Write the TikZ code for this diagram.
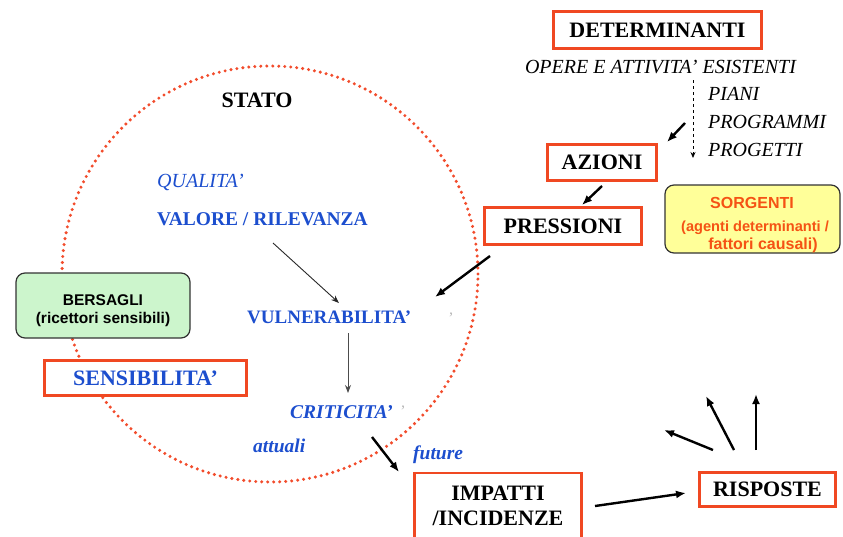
\documentclass[tikz,border=0pt]{standalone}
\usepackage{fontspec}
\setmainfont{Liberation Serif}
\newfontfamily\sansfam{Liberation Sans}
\usetikzlibrary{arrows.meta}

\definecolor{boxred}{RGB}{240,72,34}
\definecolor{dotred}{RGB}{242,76,44}
\definecolor{stateblue}{RGB}{28,78,206}
\definecolor{srcyellow}{RGB}{255,255,153}
\definecolor{tgtgreen}{RGB}{204,245,204}
\definecolor{srctext}{RGB}{245,82,20}
\definecolor{softgrey}{RGB}{185,185,185}

\begin{document}
\begin{tikzpicture}[x=1pt,y=-1pt,
  keybox/.style={draw=boxred, line width=2.8pt, fill=white, inner sep=0pt,
    font=\fontsize{22}{25}\selectfont\bfseries, align=center},
  infobox/.style={draw=black!80, line width=1.2pt, rounded corners=9pt},
  listtext/.style={font=\fontsize{20}{24}\selectfont\itshape, inner sep=0pt},
  bluebold/.style={text=stateblue, font=\fontsize{19.5}{23}\selectfont\bfseries, inner sep=0pt},
  blueital/.style={text=stateblue, font=\fontsize{19.5}{23}\selectfont\bfseries\itshape, inner sep=0pt},
  sanslabel/.style={font=\sansfam\fontsize{15.5}{19}\selectfont\bfseries, inner sep=0pt},
  srclabel/.style={text=srctext, font=\sansfam\fontsize{16}{19}\selectfont\bfseries, inner sep=0pt},
  quotemark/.style={text=softgrey, font=\fontsize{16}{18}\selectfont, inner sep=0pt},
  bigarrow/.style={black, line width=2.4pt, -{Latex[length=10pt,width=8pt]}},
  thinarrow/.style={line width=0.9pt, -{Stealth[length=8pt,width=6pt]}},
]
\useasboundingbox (0,0) rectangle (843,536);
\clip (0,0) rectangle (843,536);

% state region: dotted circle
\draw[dotred, line width=3.4pt, line cap=round, dash pattern=on 0pt off 6pt]
  (270,274) circle (208pt);

% sources
\draw[infobox, fill=srcyellow] (665,185) rectangle (840,253);
\node[srclabel] (sorg) at (752,203) {SORGENTI};
\node[srclabel, font=\sansfam\fontsize{14.6}{18}\selectfont\bfseries, anchor=west] (sorg2) at (681,228) {(agenti determinanti /};
\node[srclabel] (sorg3) at (763,245) {fattori causali)};

% targets
\draw[infobox, fill=tgtgreen] (16,273) rectangle (190,338);
\node[sanslabel] (bers) at (103,300) {BERSAGLI};
\node[sanslabel] (bers2) at (103,319) {(ricettori sensibili)};

% main boxes
\node[keybox, minimum width=208pt, minimum height=37pt] (det) at (657.5,30) {DETERMINANTI};
\node[keybox, minimum width=109pt, minimum height=36pt] (azioni) at (602,162.5) {AZIONI};
\node[keybox, minimum width=157pt, minimum height=37pt] (press) at (563,226) {PRESSIONI};
\node[keybox, minimum width=202pt, minimum height=35pt, text=stateblue] (sens) at (145.5,378) {SENSIBILITA’};
\node[keybox, minimum width=167pt, minimum height=66pt] (imp) at (498,506) {IMPATTI\\/INCIDENZE};
\node[keybox, minimum width=136pt, minimum height=34pt] (risp) at (767.5,489.5) {RISPOSTE};

% determinants list
\node[listtext] (opere) at (660.5,67) {OPERE E ATTIVITA’ ESISTENTI};
\node[listtext, anchor=west] (piani) at (708,94) {PIANI};
\node[listtext, anchor=west] (progr) at (708,122) {PROGRAMMI};
\node[listtext, anchor=west] (proge) at (708,150) {PROGETTI};
\coordinate (listtop) at (693,80);
\coordinate (listbot) at (693,158);
\draw[line width=0.8pt, dashed, -{Stealth[length=6pt,width=5pt]}] (listtop) -- (listbot);

% state contents
\node[font=\fontsize{22}{25}\selectfont\bfseries, inner sep=0pt] (stato) at (257,100) {STATO};
\node[text=stateblue, font=\fontsize{20}{23}\selectfont\itshape, inner sep=0pt, anchor=west] (qual) at (157,182) {QUALITA’};
\node[bluebold, anchor=west] (valore) at (157,219) {VALORE / RILEVANZA};
\node[bluebold, font=\fontsize{19}{23}\selectfont\bfseries, anchor=west] (vuln) at (247,317) {VULNERABILITA’};
\node[quotemark] (q1) at (451,318) {’};
\node[blueital, anchor=west] (crit) at (290,412) {CRITICITA’};
\node[quotemark] (q2) at (403,411) {’};
\node[blueital, anchor=west] (attuali) at (253,446) {attuali};
\node[blueital, anchor=west] (future) at (413,455) {future};

% flow connectors
\coordinate (c-list) at (685,123);
\coordinate (c-az) at (667,142);
\draw[bigarrow] (c-list) -- (c-az);
\coordinate (c-az2) at (602,186);
\coordinate (c-pr) at (582,205);
\draw[bigarrow] (c-az2) -- (c-pr);
\coordinate (c-pr2) at (490,256);
\coordinate (c-vu) at (435,297);
\draw[bigarrow] (c-pr2) -- (c-vu);

\coordinate (c-val) at (273,243);
\coordinate (c-vul) at (339,303);
\draw[thinarrow, black!85] (c-val) -- (c-vul);
\coordinate (c-vul2) at (348,333);
\coordinate (c-cri) at (348,393);
\draw[thinarrow, black!70] (c-vul2) -- (c-cri);

\coordinate (c-cri2) at (372,437);
\coordinate (c-imp) at (399,472);
\draw[bigarrow] (c-cri2) -- (c-imp);

\coordinate (c-imp2) at (595,506);
\coordinate (c-ris) at (686,493);
\draw[bigarrow] (c-imp2) -- (c-ris);

% responses
\coordinate (r1) at (713,450);
\coordinate (r1e) at (664,430);
\coordinate (r2) at (734,450);
\coordinate (r2e) at (706,396);
\coordinate (r3) at (756,450);
\coordinate (r3e) at (756,394);
\draw[bigarrow] (r1) -- (r1e);
\draw[bigarrow] (r2) -- (r2e);
\draw[bigarrow] (r3) -- (r3e);
\end{tikzpicture}
\end{document}
